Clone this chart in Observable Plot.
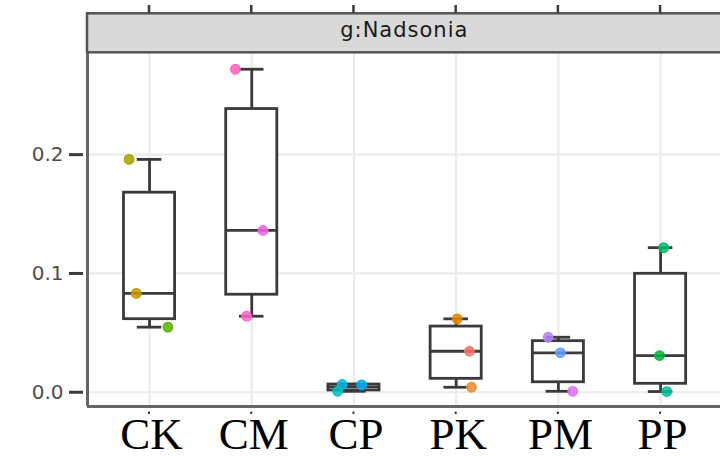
<!DOCTYPE html>
<html>
<head>
<meta charset="utf-8">
<script src="https://cdn.jsdelivr.net/npm/d3@7"></script>
<script src="https://cdn.jsdelivr.net/npm/@observablehq/plot@0.6"></script>
<style>
  html, body { margin: 0; padding: 0; background: white; }
</style>
</head>
<body>
<div id="chart"></div>
<script>
// ---- data ----
const facetLabel = "g:Nadsonia";
const categories = ["CK", "CM", "CP", "PK", "PM", "PP"];
const yTicks = [0, 0.1, 0.2];

// box statistics per category
const boxMin    = [0.0548, 0.0640, 0.0008, 0.0042, 0.0008, 0.0006];
const boxQ1     = [0.0615, 0.0821, 0.0015, 0.0113, 0.0084, 0.0071];
const boxMedian = [0.0832, 0.1362, 0.0045, 0.0345, 0.0332, 0.0309];
const boxQ3     = [0.1680, 0.2384, 0.0065, 0.0553, 0.0430, 0.0997];
const boxMax    = [0.1960, 0.2719, 0.0068, 0.0618, 0.0463, 0.1217];

// individual samples (jittered points)
const pointGroup  = ["CK","CK","CK","CM","CM","CM","CP","CP","CP","PK","PK","PK","PM","PM","PM","PP","PP","PP"];
const pointValue  = [0.1960,0.0832,0.0548, 0.2719,0.1362,0.0640, 0.0065,0.0008,0.0062, 0.0618,0.0345,0.0042, 0.0463,0.0332,0.0008, 0.1217,0.0309,0.0006];
const pointJitter = [-0.20,-0.13,0.18, -0.16,0.11,-0.05, -0.115,-0.16,0.075, 0.01,0.13,0.15, -0.10,0.02,0.14, 0.03,-0.01,0.06];
const pointColor  = ["#A3A500","#C49A00","#5BB300", "#FF62BC","#F564E3","#FF61C9", "#00B9E3","#00BFC4","#00ADFA", "#E38900","#F8766D","#F08A30", "#B385FF","#619CFF","#DC71FA", "#00BE67","#00BA38","#00C19A"];

// ---- build tables ----
const boxes = categories.map((c, i) => ({
  cat: c, i, min: boxMin[i], q1: boxQ1[i], median: boxMedian[i], q3: boxQ3[i], max: boxMax[i]
}));
const points = pointGroup.map((g, k) => ({
  x: categories.indexOf(g) + pointJitter[k], y: pointValue[k], color: pointColor[k]
}));

const xDomain = [-0.607, 5.586];
const yDomain = [-0.012, 0.286];
const boxHalf = 0.25, capHalf = 0.12;
const ink = "#3A3A3A";
const lw = 2.8;

const svg = Plot.plot({
  width: 720,
  height: 456,
  marginLeft: 87,
  marginRight: 0,
  marginTop: 52,
  marginBottom: 50,
  style: { fontFamily: "DejaVu Sans", background: "white", overflow: "visible" },
  x: { type: "linear", domain: xDomain, axis: null },
  y: { domain: yDomain, axis: null },
  marks: [
    // grid
    Plot.ruleX(d3.range(categories.length), { stroke: "#EBEBEB", strokeWidth: 2.2 }),
    Plot.ruleY(yTicks, { stroke: "#EBEBEB", strokeWidth: 2.2 }),
    // whiskers
    Plot.ruleX(boxes, { x: "i", y1: "min", y2: "max", stroke: ink, strokeWidth: lw }),
    // boxes
    Plot.rect(boxes, {
      x1: d => d.i - boxHalf, x2: d => d.i + boxHalf, y1: "q1", y2: "q3",
      fill: "white", stroke: ink, strokeWidth: lw
    }),
    // medians
    Plot.ruleY(boxes, { y: "median", x1: d => d.i - boxHalf, x2: d => d.i + boxHalf, stroke: ink, strokeWidth: lw }),
    // whisker caps
    Plot.ruleY(boxes, { y: "max", x1: d => d.i - capHalf, x2: d => d.i + capHalf, stroke: ink, strokeWidth: lw }),
    Plot.ruleY(boxes, { y: "min", x1: d => d.i - capHalf, x2: d => d.i + capHalf, stroke: ink, strokeWidth: lw }),
    // points
    Plot.dot(points, { x: "x", y: "y", fill: "color", stroke: "color", strokeWidth: 1.2, fillOpacity: 0.85, r: 4.8 }),
    // panel borders (left, bottom)
    Plot.ruleX([xDomain[0]], { stroke: "#666", strokeWidth: 3 }),
    Plot.ruleY([yDomain[0]], { stroke: "#666", strokeWidth: 3 }),
    // axes
    Plot.axisY(yTicks, {
      tickSize: 14, dx: -4, tickPadding: 6, fontSize: 20,
      tickFormat: d3.format(".1f"), stroke: ink, strokeWidth: 3, fill: "#4D4D4D"
    }),
    Plot.axisX(d3.range(categories.length), {
      tickFormat: i => categories[i], tickSize: 0, tickPadding: 11,
      fontSize: 45, fontFamily: "Liberation Serif", fill: "black", dx: 2
    })
  ]
});

// ---- facet strip and outer ticks, positioned via the plot's scales ----
const xs = svg.scale("x");
const g = d3.select(svg).append("g");
const stripTop = 13.3, stripBottom = 52.3;
const left = xs.apply(xDomain[0]);
g.append("rect")
  .attr("x", left).attr("y", stripTop)
  .attr("width", 740 - left).attr("height", stripBottom - stripTop)
  .attr("fill", "#D9D9D9").attr("stroke", "#555").attr("stroke-width", 2.5);
g.append("text")
  .attr("x", (xs.apply(xDomain[0]) + xs.apply(xDomain[1]) + 1.6) / 2)
  .attr("y", 37)
  .attr("text-anchor", "middle")
  .attr("font-family", "DejaVu Sans")
  .attr("font-size", 21)
  .attr("letter-spacing", 1)
  .attr("fill", "#1A1A1A")
  .text(facetLabel);
// ticks above strip
g.selectAll("line.top").data(d3.range(categories.length)).join("line")
  .attr("x1", d => xs.apply(d)).attr("x2", d => xs.apply(d))
  .attr("y1", 5).attr("y2", 13)
  .attr("stroke", ink).attr("stroke-width", 2.5);
// tiny ticks below panel
g.selectAll("line.bot").data(d3.range(categories.length)).join("line")
  .attr("x1", d => xs.apply(d)).attr("x2", d => xs.apply(d))
  .attr("y1", 411.5).attr("y2", 414)
  .attr("stroke", ink).attr("stroke-width", 2);

document.getElementById("chart").appendChild(svg);
</script>
</body>
</html>
